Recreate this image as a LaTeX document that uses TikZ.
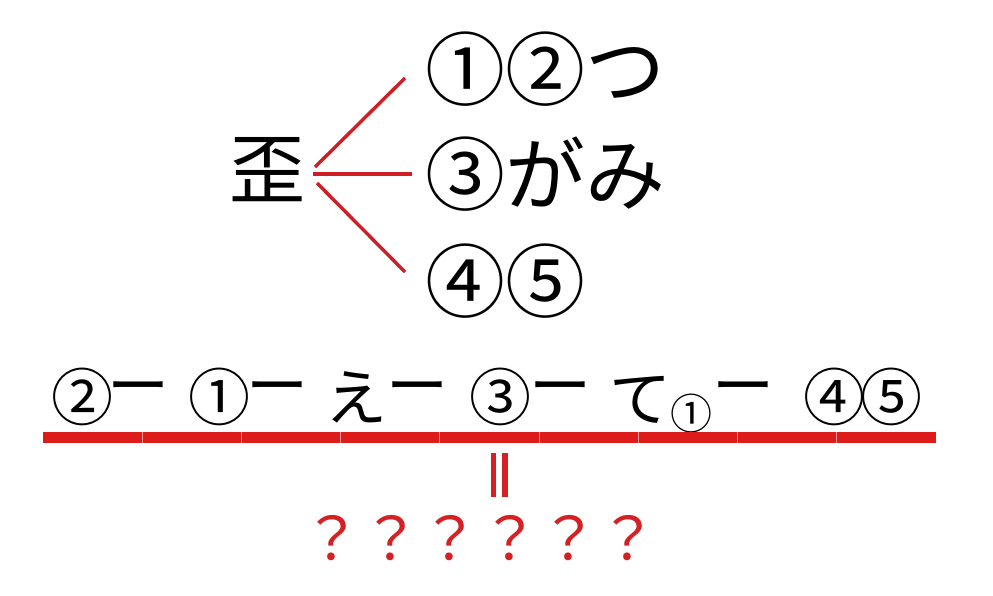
\documentclass[tikz,border=0pt]{standalone}
\usepackage{fontspec}
\setmainfont{Noto Sans CJK JP}
\definecolor{barred}{RGB}{222,27,27}
\definecolor{linered}{RGB}{204,32,36}
\definecolor{qred}{RGB}{212,34,36}
\begin{document}
\begin{tikzpicture}[x=1pt,y=-1pt]
\useasboundingbox (0,0) rectangle (993,595);
\tikzset{
  roottxt/.style={font=\fontsize{76}{76}\selectfont, inner sep=0pt, outer sep=0pt},
  bigtxt/.style={font=\fontsize{80}{80}\selectfont, inner sep=0pt, outer sep=0pt},
  midtxt/.style={font=\fontsize{62}{62}\selectfont, inner sep=0pt, outer sep=0pt},
  smalltxt/.style={font=\fontsize{42}{42}\selectfont, inner sep=0pt, outer sep=0pt},
  qtxt/.style={font=\fontsize{59.3}{59.3}\selectfont, inner sep=0pt, outer sep=0pt, text=qred},
  branch/.style={draw=linered, line width=3.4pt},
  sep/.style={draw=white, line width=0.8pt, opacity=0.55},
}
% top tree
\node[roottxt] (root) at (267,170) {歪};
\node[bigtxt, anchor=west] (r1) at (425,69) {①②つ};
\node[bigtxt, anchor=west] (r2) at (425,174) {③がみ};
\node[bigtxt, anchor=west] (r3) at (425,281) {④⑤};
\coordinate (s1) at (315,167);
\coordinate (s2) at (313,174);
\coordinate (s3) at (317,183);
\coordinate (e1) at (405,78);
\coordinate (e2) at (412,174);
\coordinate (e3) at (405,272);
\draw[branch] (s1) -- (e1);
\draw[branch] (s2) -- (e2);
\draw[branch] (s3) -- (e3);
% bottom row
\node[midtxt] (c2) at (82,396.5) {②};
\node[midtxt] (d1) at (138,395) {ー};
\node[midtxt] (c1) at (219,396.5) {①};
\node[midtxt] (d2) at (277,395) {ー};
\node[midtxt] (ee) at (356,397) {え};
\node[midtxt] (d3) at (417,395) {ー};
\node[midtxt] (c3) at (500,396.5) {③};
\node[midtxt] (d4) at (560,395) {ー};
\node[midtxt] (te) at (640,399.5) {て};
\node[smalltxt] (sc1) at (691,413.5) {①};
\node[midtxt] (d5) at (743,395) {ー};
\node[midtxt] (c4) at (834,396.5) {④};
\node[midtxt] (c5) at (891,396.5) {⑤};
% red bar
\fill[barred] (43,432) rectangle (936,443);
\foreach \i in {1,...,8} {
  \draw[sep] ({43+\i*99.22},432) -- ({43+\i*99.22},443);
}
% equals (vertical)
\coordinate (q1a) at (493.5,453);
\coordinate (q1b) at (493.5,497);
\coordinate (q2a) at (505,453);
\coordinate (q2b) at (505,497);
\draw[draw=qred, line width=5.5pt] (q1a) -- (q1b);
\draw[draw=qred, line width=5.5pt] (q2a) -- (q2b);
% question marks
\node[qtxt] (qs) at (480,538.5) {？？？？？？};
\end{tikzpicture}
\end{document}
